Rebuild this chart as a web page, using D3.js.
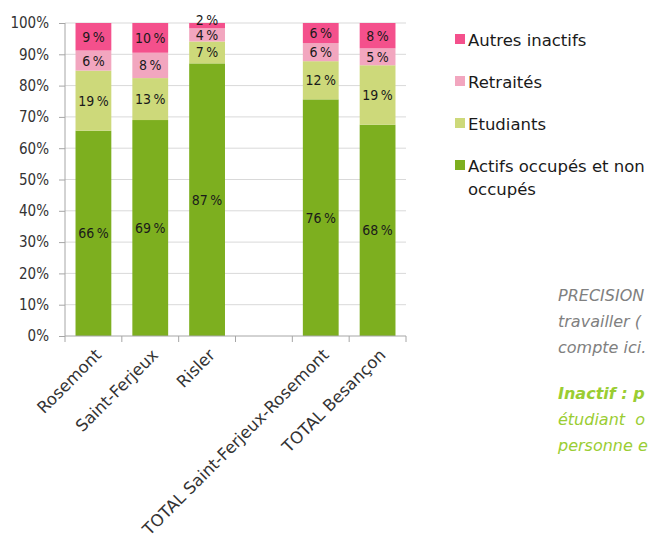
<!DOCTYPE html>
<html><head><meta charset="utf-8">
<script src="https://cdn.jsdelivr.net/npm/d3@7"></script>
<style>
body{margin:0;background:#fff;}
svg{display:block;}
</style></head><body>
<svg id="c" width="649" height="541"></svg>
<script>
const categories = ["Rosemont","Saint-Ferjeux","Risler","","TOTAL Saint-Ferjeux-Rosemont","TOTAL Besançon"];
const seriesNames = ["Actifs occupés et non occupés","Etudiants","Retraités","Autres inactifs"];
const actifs   = [65.6, 69.0, 87.1, null, 75.6, 67.5];
const etudiants= [19.2, 13.4,  7.0, null, 12.2, 19.0];
const retraites= [ 6.4,  8.1,  4.2, null,  5.8,  5.4];
const autres   = [ 8.8,  9.5,  1.7, null,  6.4,  8.1];
const yTicks = [0,10,20,30,40,50,60,70,80,90,100];
const colors = ["#7daf1f","#cdd97a","#f2a6bf","#f4508c"];

const svg = d3.select("#c");
const x = d3.scaleBand().domain(categories.map((c,i)=>i)).range([65,406]).paddingInner(0.37).paddingOuter(0.185);
const y = d3.scaleLinear().domain([0,100]).range([336,23]);

// gridlines
svg.append("g").selectAll("line").data(yTicks.slice(1)).join("line")
  .attr("x1",65).attr("x2",406).attr("y1",d=>y(d)).attr("y2",d=>y(d))
  .attr("stroke","#d9d9d9").attr("stroke-width",1);

const seriesData = [actifs, etudiants, retraites, autres];
const rows = categories.map((c,i)=>{ const r={i}; seriesData.forEach((s,k)=>r[k]=s[i]||0); return r;});
const stack = d3.stack().keys([0,1,2,3])(rows);

stack.forEach((layer,k)=>{
  svg.append("g").selectAll("rect").data(layer.filter(d=>d.data[k]>0)).join("rect")
    .attr("x",d=>x(d.data.i)).attr("width",x.bandwidth())
    .attr("y",d=>y(d[1])).attr("height",d=>y(d[0])-y(d[1]))
    .attr("fill",colors[k]);
});

// labels with simple collision avoidance
categories.forEach((c,i)=>{
  if(!seriesData[0][i]) return;
  let prevY = Infinity;
  stack.forEach((layer,k)=>{
    const d = layer[i];
    let cy = y((d[0]+d[1])/2);
    if(cy > prevY - 15) cy = prevY - 15;
    prevY = cy;
    svg.append("text").attr("x",x(i)+x.bandwidth()/2).attr("y",cy)
      .attr("text-anchor","middle").attr("dominant-baseline","central")
      .attr("font-family","DejaVu Sans Condensed").attr("font-size",14).attr("fill","#1a1a1a")
      .text(Math.round(seriesData[k][i])+"\u202F%");
  });
});

// y axis
const yAxis = d3.axisLeft(y).tickValues(yTicks).tickFormat(d=>d+"%").tickSize(6).tickPadding(10);
const gy = svg.append("g").attr("transform","translate(65,0)").call(yAxis);
gy.select(".domain").attr("stroke","#a6a6a6").attr("d","M0,23V336");
gy.selectAll(".tick line").attr("stroke","#a6a6a6");
gy.selectAll("text").attr("font-family","DejaVu Sans Condensed").attr("font-size",15).attr("fill","#333");

// x axis
const gx = svg.append("g").attr("transform","translate(0,336)");
gx.append("line").attr("x1",65).attr("x2",406).attr("stroke","#a6a6a6");
const bounds = categories.map((c,i)=>x(i)-x.step()*x.paddingInner()/2).concat([406]);
gx.selectAll("line.t").data(bounds).join("line").attr("class","t")
  .attr("x1",d=>d).attr("x2",d=>d).attr("y1",0).attr("y2",6).attr("stroke","#a6a6a6");
gx.selectAll("text").data(categories).join("text")
  .attr("transform",(d,i)=>`translate(${x(i)+x.bandwidth()/2+9},${20}) rotate(-45)`)
  .attr("text-anchor","end")
  .attr("font-family","DejaVu Sans").attr("font-size",16.5).attr("fill","#333")
  .text(d=>d);

// legend
const legendItems = [
  {k:3, lines:["Autres inactifs"], y:40},
  {k:2, lines:["Retraités"], y:82},
  {k:1, lines:["Etudiants"], y:124},
  {k:0, lines:["Actifs occupés et non","occupés"], y:166}
];
const lg = svg.append("g");
legendItems.forEach(it=>{
  lg.append("rect").attr("x",455).attr("y",it.y-6).attr("width",10).attr("height",10).attr("fill",colors[it.k]);
  const t = lg.append("text").attr("x",468).attr("y",it.y).attr("dominant-baseline","central")
    .attr("font-family","DejaVu Sans").attr("font-size",16.5).attr("fill","#1a1a1a");
  it.lines.forEach((l,j)=>t.append("tspan").attr("x",468).attr("dy",j?23:0).text(l));
});

// side notes
const notes = [
  {t:"PRECISION", y:301, c:"#808080", w:"normal"},
  {t:"travailler (", y:327, c:"#808080", w:"normal"},
  {t:"compte ici.", y:353, c:"#808080", w:"normal"},
  {t:"Inactif : p", y:399, c:"#9acd32", w:"bold"},
  {t:"étudiant  o", y:425, c:"#9acd32", w:"normal"},
  {t:"personne e", y:451, c:"#9acd32", w:"normal"}
];
svg.append("g").selectAll("text").data(notes).join("text")
  .attr("x",558).attr("y",d=>d.y).attr("fill",d=>d.c).attr("font-weight",d=>d.w)
  .attr("font-style","italic").attr("font-family","DejaVu Sans").attr("font-size",16)
  .attr("xml:space","preserve").style("white-space","pre")
  .text(d=>d.t);
</script>
</body></html>
